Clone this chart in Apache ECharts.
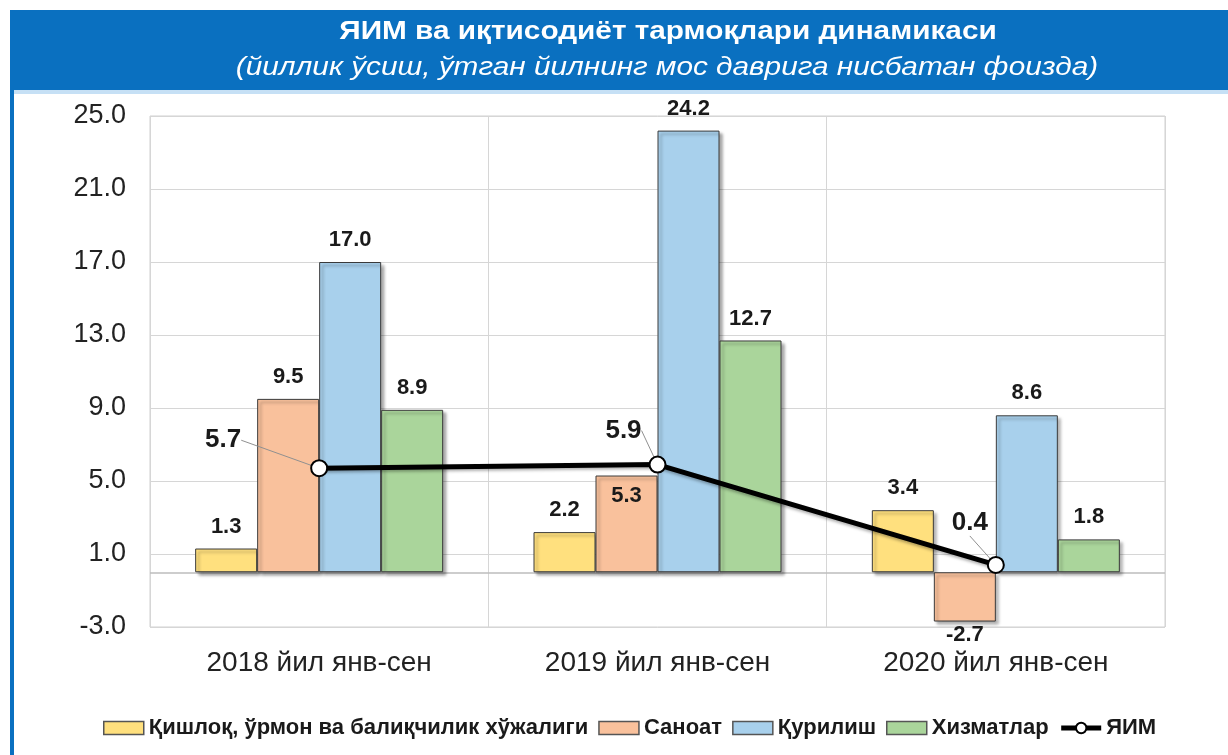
<!DOCTYPE html>
<html>
<head>
<meta charset="utf-8">
<script src="https://cdn.jsdelivr.net/npm/echarts@6/dist/echarts.min.js"></script>
<style>
html,body{margin:0;padding:0;background:#fff;}
#chart{width:1228px;height:755px;}
</style>
</head>
<body>
<div id="chart"></div>
<script>
const categories = ['2018 йил янв-сен', '2019 йил янв-сен', '2020 йил янв-сен'];
const seriesNames = ['Қишлоқ, ўрмон ва балиқчилик хўжалиги', 'Саноат', 'Қурилиш', 'Хизматлар', 'ЯИМ'];
const agriculture = [1.3, 2.2, 3.4];
const industry = [9.5, 5.3, -2.7];
const construction = [17.0, 24.2, 8.6];
const services = [8.9, 12.7, 1.8];
const gdp = [5.7, 5.9, 0.4];
const yTicks = {min: -3, max: 25, interval: 4};
const barColors = ['#FFE07E', '#F9C19C', '#A8D0EC', '#AAD59B'];
const titleText = 'ЯИМ ва иқтисодиёт тармоқлари динамикаси';
const subtitleText = '(йиллик ўсиш, ўтган йилнинг мос даврига нисбатан фоизда)';

// label placement styling (not data)
const industryLabelPos = ['top', 'insideTop', 'bottom'];
const gdpLabelOffsets = [[-96, -28], [-34, -34], [-26, -42]];

const chart = echarts.init(document.getElementById('chart'), null, {renderer: 'canvas'});

function barSeries(name, values, color, withZero, positions) {
  const s = {
    name: name,
    type: 'bar',
    barWidth: 62,
    barGap: '0%',
    data: values.map((v, i) => {
      const pos = positions ? positions[i] : (v < 0 ? 'bottom' : 'top');
      return {value: v, label: {position: pos, distance: pos === 'bottom' ? 2 : (pos === 'insideTop' ? 9 : 11)}};
    }),
    itemStyle: {
      color: color,
      borderColor: '#3a3a3a',
      borderWidth: 1,
      shadowColor: 'rgba(0,0,0,0.35)',
      shadowBlur: 3,
      shadowOffsetX: 3,
      shadowOffsetY: 3
    },
    label: {
      show: true,
      color: '#1a1a1a',
      fontFamily: 'Liberation Sans, Arial, sans-serif',
      fontWeight: 'bold',
      fontSize: 22,
      formatter: p => Number(p.value).toFixed(1)
    },
    z: 2
  };
  if (withZero) {
    s.markLine = {
      silent: true,
      symbol: 'none',
      label: {show: false},
      lineStyle: {color: '#bdbdbd', width: 1.5, type: 'solid'},
      data: [{yAxis: 0}],
      z: 1
    };
  }
  return s;
}

const legendData = seriesNames.map((n, i) => i < 4
  ? {name: n, icon: 'rect', itemStyle: {borderColor: '#555', borderWidth: 1.5}}
  : {name: n, lineStyle: {width: 5, color: '#000'}, itemStyle: {color: '#fff', borderColor: '#000', borderWidth: 2}});

const option = {
  backgroundColor: '#ffffff',
  animation: false,
  graphic: [
    {type: 'rect', shape: {x: 10, y: 10, width: 1218, height: 80}, style: {fill: '#0A70C0'}, z: -10},
    {type: 'rect', shape: {x: 14, y: 90, width: 1214, height: 4}, style: {fill: '#C6E0F5'}, z: -10},
    {type: 'rect', shape: {x: 10, y: 10, width: 4, height: 745}, style: {fill: '#0A70C0'}, z: -10},
    {type: 'text', x: 668, y: 32, scaleX: 1.19, style: {text: titleText, fill: '#ffffff', fontFamily: 'Liberation Sans, Arial, sans-serif', fontWeight: 'bold', fontSize: 25, textAlign: 'center', textVerticalAlign: 'middle'}},
    {type: 'text', x: 667, y: 68, scaleX: 1.19, style: {text: subtitleText, fill: '#ffffff', fontFamily: 'Liberation Sans, Arial, sans-serif', fontStyle: 'italic', fontSize: 25, textAlign: 'center', textVerticalAlign: 'middle'}}
  ],
  grid: {left: 150, right: 63, top: 116, bottom: 128, show: true, borderColor: '#d0d0d0', borderWidth: 1},
  legend: {
    data: legendData,
    top: 712,
    left: 98,
    itemWidth: 40,
    itemHeight: 13,
    itemGap: 10,
    textStyle: {fontFamily: 'Liberation Sans, Arial, sans-serif', fontWeight: 'bold', fontSize: 22, color: '#1a1a1a'}
  },
  xAxis: {
    type: 'category',
    data: categories,
    boundaryGap: true,
    axisLine: {onZero: false, show: false},
    axisTick: {show: false},
    splitLine: {show: true, lineStyle: {color: '#d6d6d6', width: 1}},
    axisLabel: {margin: 22, fontFamily: 'Liberation Sans, Arial, sans-serif', fontSize: 28, color: '#222'}
  },
  yAxis: {
    type: 'value',
    min: yTicks.min,
    max: yTicks.max,
    interval: yTicks.interval,
    axisLine: {show: false},
    axisTick: {show: false},
    splitLine: {lineStyle: {color: '#d6d6d6', width: 1}},
    axisLabel: {margin: 24, fontFamily: 'Liberation Sans, Arial, sans-serif', fontSize: 27, color: '#222', formatter: v => v.toFixed(1)}
  },
  series: [
    barSeries(seriesNames[0], agriculture, barColors[0], true),
    barSeries(seriesNames[1], industry, barColors[1], false, industryLabelPos),
    barSeries(seriesNames[2], construction, barColors[2], false),
    barSeries(seriesNames[3], services, barColors[3], false),
    {
      name: seriesNames[4],
      type: 'line',
      data: gdp,
      symbol: 'circle',
      symbolSize: 16,
      z: 5,
      lineStyle: {color: '#000', width: 5, shadowColor: 'rgba(0,0,0,0.3)', shadowBlur: 3, shadowOffsetY: 2},
      itemStyle: {color: '#ffffff', borderColor: '#000', borderWidth: 2},
      label: {
        show: true,
        position: 'top',
        distance: 0,
        color: '#1a1a1a',
        fontFamily: 'Liberation Sans, Arial, sans-serif',
        fontWeight: 'bold',
        fontSize: 26,
        formatter: p => Number(p.value).toFixed(1)
      },
      labelLine: {show: true, lineStyle: {color: '#909090', width: 1}},
      labelLayout: function (params) {
        const off = gdpLabelOffsets[params.dataIndex];
        const r = params.rect;
        return {x: r.x + r.width / 2 + off[0], y: r.y + r.height / 2 + off[1], align: 'center', verticalAlign: 'middle'};
      }
    }
  ]
};
chart.setOption(option);
</script>
</body>
</html>
